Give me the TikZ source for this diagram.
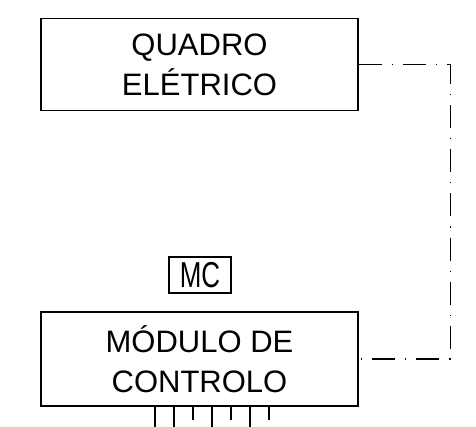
\documentclass[tikz,border=0pt]{standalone}
\usepackage{fontspec}
\setmainfont{Liberation Sans}
\usepackage{graphicx}
\usetikzlibrary{positioning}

\tikzset{
  panel/.style={draw, line width=1.2pt, minimum width=317pt, minimum height=92pt,
    align=center, inner sep=0pt, font=\fontsize{31}{40}\selectfont},
  tagbox/.style={draw, line width=1.2pt, minimum width=62pt, minimum height=36pt,
    inner sep=0pt, font=\fontsize{36}{36}\selectfont},
  link/.style={line width=1.1pt, dash pattern=on 23pt off 10pt on 1.2pt off 10pt},
  pin/.style={line width=1.1pt}
}

\begin{document}
\begin{tikzpicture}[x=1pt, y=-1pt]
\useasboundingbox (0,0) rectangle (476,427);

\node[panel] (quadro) at (199.5,64.5) {QUADRO\\ELÉTRICO};
\node[panel, minimum height=94pt] (modulo) at (199.5,359) {MÓDULO DE\\CONTROLO};
\node[tagbox] (mc) at (200,275) {\scalebox{0.72}[1]{MC}};

% dash-dot link on the right
\draw[link] (quadro.east) -- ++(92,0) |- (modulo.east);

% pins under the module
\foreach \i/\len in {0/21,1/21,2/13,3/21,4/13,5/21,6/13}
  \draw[pin] ([xshift=-44.5pt+19*\i pt]modulo.south) -- ++(0,\len);
\end{tikzpicture}
\end{document}
